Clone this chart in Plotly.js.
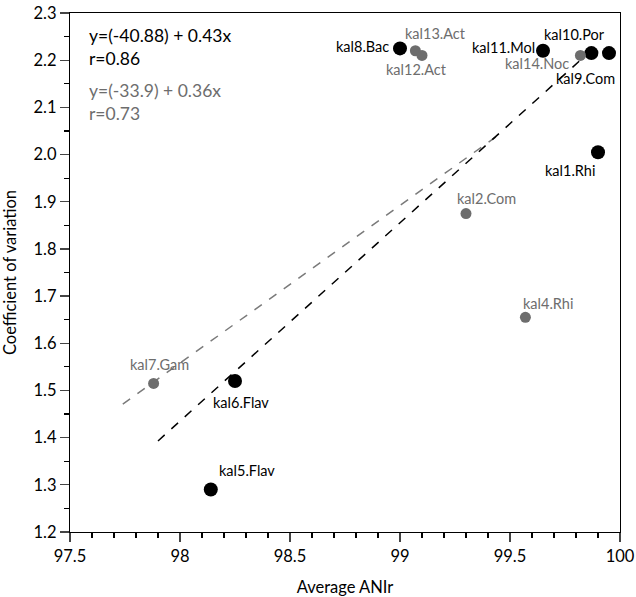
<!DOCTYPE html>
<html><head><meta charset="utf-8">
<script src="https://cdn.plot.ly/plotly-3.0.1.min.js"></script>
<style>body{margin:0;background:#fff}#c{width:636px;height:597px}</style>
</head><body><div id="c"></div>
<script>
// Black group
const blackNames = ["kal8.Bac","kal11.Mol","kal10.Por","kal9.Com","kal1.Rhi","kal6.Flav","kal5.Flav"];
const blackX = [99.00, 99.65, 99.87, 99.95, 99.90, 98.25, 98.14];
const blackY = [2.225, 2.22, 2.215, 2.215, 2.005, 1.52, 1.29];
// Gray group
const grayNames = ["kal13.Act","kal12.Act","kal14.Noc","kal2.Com","kal4.Rhi","kal7.Gam"];
const grayX = [99.07, 99.10, 99.82, 99.30, 99.57, 97.88];
const grayY = [2.22, 2.21, 2.21, 1.875, 1.655, 1.515];
// Fitted regression lines (as drawn)
const blackFitX = [97.90, 99.82];
const blackFitY = [1.393, 2.20];
const grayFitX = [97.74, 99.44];
const grayFitY = [1.471, 2.039];
const blackEq = ["y=(-40.88) + 0.43x", "r=0.86"];
const grayEq = ["y=(-33.9) + 0.36x", "r=0.73"];

const GRAY = "#6d6d6d";
const FONT = "Lato, 'Open Sans', sans-serif";

// label offsets (pixels) – style only
const blackOff = [[-38,2],[-40,3],[-17,19],[-24,-25],[-28,-18],[6,-21],[36,19]];
const grayOff = [[20,17],[-6,-14],[-43,-8],[20,15],[23,14],[6,19]];

const traces = [
  {x: grayFitX, y: grayFitY, mode: "lines", line: {color: "#7a7a7a", width: 1.5, dash: "dash"}, hoverinfo: "skip"},
  {x: blackFitX, y: blackFitY, mode: "lines", line: {color: "#000", width: 1.5, dash: "dash"}, hoverinfo: "skip"},
  {x: blackX, y: blackY, mode: "markers", marker: {color: "#000", size: 14}},
  {x: grayX, y: grayY, mode: "markers", marker: {color: GRAY, size: 11}}
];

const ann = [];
blackNames.forEach((n,i)=>ann.push({x: blackX[i], y: blackY[i], xref:"x", yref:"y", text: n, showarrow:false,
  xshift: blackOff[i][0], yshift: blackOff[i][1], font:{family:FONT, size:14.5, color:"#000"}}));
grayNames.forEach((n,i)=>ann.push({x: grayX[i], y: grayY[i], xref:"x", yref:"y", text: n, showarrow:false,
  xshift: grayOff[i][0], yshift: grayOff[i][1], font:{family:FONT, size:14.5, color:GRAY}}));
ann.push({xref:"paper", yref:"paper", x:0.03, y:0.98, xanchor:"left", yanchor:"top", align:"left",
  text: blackEq.join("<br>"), showarrow:false, font:{family:FONT, size:17.5, color:"#000"}});
ann.push({xref:"paper", yref:"paper", x:0.03, y:0.875, xanchor:"left", yanchor:"top", align:"left",
  text: grayEq.join("<br>"), showarrow:false, font:{family:FONT, size:17.5, color:GRAY}});

const layout = {
  width: 636, height: 597,
  margin: {l: 69.5, r: 15.5, t: 13, b: 65},
  showlegend: false,
  paper_bgcolor: "#fff", plot_bgcolor: "#fff",
  font: {family: FONT, size: 16, color: "#000"},
  xaxis: {range: [97.5, 100], dtick: 0.5, tick0: 97.5, ticks: "outside", ticklen: 9, tickwidth: 1.2,
    showline: true, mirror: true, linecolor: "#000", linewidth: 1.2, showgrid: false, zeroline: false,
    tickfont: {family: FONT, size: 16.5},
    minor: {dtick: 0.1, ticks: "outside", ticklen: 5, tickwidth: 1.2, tickcolor: "#000", showgrid: false},
    title: {text: "Average ANIr", font: {family: FONT, size: 16.5}, standoff: 16}},
  yaxis: {range: [1.2, 2.3], dtick: 0.1, tick0: 1.2, ticks: "outside", ticklen: 9, tickwidth: 1.2, tickformat: ".1f",
    showline: true, mirror: true, linecolor: "#000", linewidth: 1.2, showgrid: false, zeroline: false,
    tickfont: {family: FONT, size: 16.5},
    minor: {dtick: 0.05, ticks: "outside", ticklen: 5, tickwidth: 1.2, tickcolor: "#000", showgrid: false},
    title: {text: "Coefficient of variation", font: {family: FONT, size: 16.5}, standoff: 12}},
  annotations: ann
};
Plotly.newPlot("c", traces, layout, {displayModeBar: false, staticPlot: true});
</script></body></html>
